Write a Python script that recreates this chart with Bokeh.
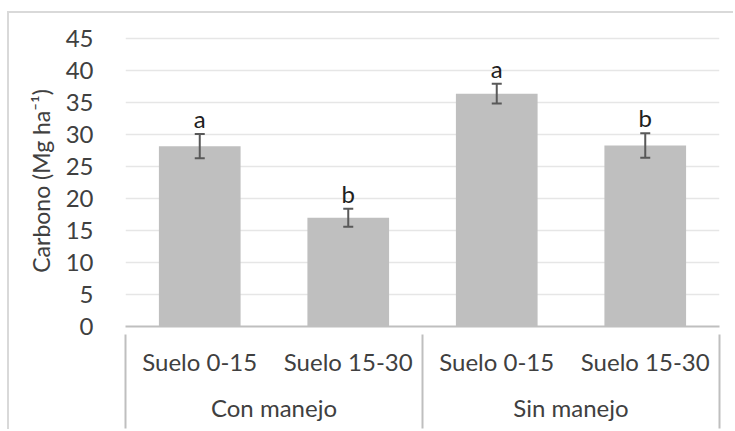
from bokeh.plotting import figure
from bokeh.models import (ColumnDataSource, FixedTicker, LinearAxis, Range1d,
                          Whisker, TeeHead)
from bokeh.core.properties import value
from bokeh.embed import file_html
from bokeh.resources import INLINE

# Data: soil carbon stock by management and depth
grupos = ["Con manejo", "Sin manejo"]
profundidades = ["Suelo 0-15", "Suelo 15-30"]
carbono = [28.2, 17.0, 36.4, 28.3]
error = [1.9, 1.4, 1.55, 1.9]
letras = ["a", "b", "a", "b"]
y_ticks = [0, 5, 10, 15, 20, 25, 30, 35, 40, 45]

# Each bar occupies two x units: bar centres at 1, 3, 5, 7; group edges at 0, 4, 8
etiquetas = [(g, d) for g in grupos for d in profundidades]
xs = [2 * i + 1 for i in range(len(etiquetas))]
centros_grupo = [4 * i + 2 for i in range(len(grupos))]
bordes_grupo = [4 * i for i in range(len(grupos) + 1)]
sup = [c + e for c, e in zip(carbono, error)]
inf = [c - e for c, e in zip(carbono, error)]
source = ColumnDataSource(dict(x=xs, y=carbono, upper=sup, lower=inf, letra=letras))

FONT = "Lato"
TXT = "#404040"
AXIS = "#bfbfbf"

p = figure(width=726, height=418, output_backend="svg", toolbar_location=None,
           x_range=Range1d(0, 2 * len(etiquetas)), y_range=Range1d(0, 45.5),
           x_axis_type=None, y_axis_location="left",
           min_border_left=116, min_border_right=16, min_border_top=22,
           min_border_bottom=105)
p.styles = {"margin-left": "7px", "margin-top": "11px",
            "border-left": "2px solid #d9d9d9", "border-top": "2px solid #d9d9d9"}
p.outline_line_color = None
p.background_fill_color = "white"

# Y axis
ya = p.yaxis[0]
ya.ticker = FixedTicker(ticks=y_ticks)
ya.axis_line_color = None
ya.major_tick_line_color = None
ya.minor_tick_line_color = None
ya.major_label_text_font = FONT
ya.major_label_text_font_size = "24px"
ya.major_label_text_color = TXT
ya.major_label_standoff = 26
ya.axis_label = "Carbono (Mg ha\u207b\u00b9)"
ya.axis_label_text_font = FONT
ya.axis_label_text_font_size = "23px"
ya.axis_label_text_font_style = "normal"
ya.axis_label_text_color = TXT
ya.axis_label_standoff = 8

p.xgrid.visible = False
p.ygrid.ticker = FixedTicker(ticks=y_ticks)
p.ygrid.grid_line_color = "#e6e6e6"
p.ygrid.grid_line_width = 1.5

# Bars
p.vbar(x="x", top="y", width=1.1, bottom=0, source=source,
       fill_color="#bfbfbf", line_color=None)

# Error bars, drawn over the bars
w = Whisker(base="x", upper="upper", lower="lower", source=source,
            line_color="#595959", line_width=2, level="annotation",
            upper_head=TeeHead(size=10, line_color="#595959", line_width=2),
            lower_head=TeeHead(size=10, line_color="#595959", line_width=2))
p.add_layout(w)

# Significance letters just above each error bar
p.text(x="x", y="upper", text="letra", source=source, text_align="center",
       text_baseline="bottom", y_offset=-1, text_font=value(FONT),
       text_font_size="24px", text_color="#202020")


def label_axis(ticks, labels, standoff):
    ax = LinearAxis(ticker=FixedTicker(ticks=ticks, minor_ticks=[]),
                    major_label_overrides=dict(zip(ticks, labels)))
    ax.axis_line_color = None
    ax.major_tick_line_color = None
    ax.minor_tick_line_color = None
    ax.major_label_text_font = FONT
    ax.major_label_text_font_size = "24px"
    ax.major_label_text_color = TXT
    ax.major_label_standoff = standoff
    return ax


# Category axis, first row: depth labels (with the horizontal axis line)
row1 = label_axis(xs, [d for _, d in etiquetas], 14)
row1.axis_line_color = AXIS
row1.axis_line_width = 2
p.add_layout(row1, "below")

# Category axis, second row: management groups
row2 = label_axis(centros_grupo, grupos, 8)
p.add_layout(row2, "below")

# Group separators, drawn upward from below the second row
sep = LinearAxis(ticker=FixedTicker(ticks=[], minor_ticks=bordes_grupo))
sep.axis_line_color = None
sep.major_tick_line_color = None
sep.major_label_text_font_size = "0px"
sep.minor_tick_line_color = AXIS
sep.minor_tick_line_width = 2
sep.minor_tick_in = 90
sep.minor_tick_out = 4
sep.major_label_standoff = 0
p.add_layout(sep, "below")

open("out.html", "w").write(file_html(p, INLINE))
